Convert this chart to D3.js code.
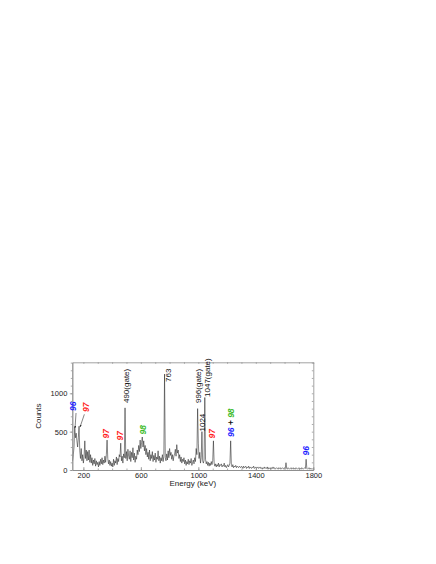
<!DOCTYPE html>
<html>
<head>
<meta charset="utf-8">
<script src="https://d3js.org/d3.v7.min.js"></script>
<style>
body { margin: 0; background: #fff; }
svg { display: block; font-family: "Liberation Sans", Arial, sans-serif; }
</style>
</head>
<body>
<svg id="chart"></svg>
<script>
// spectrum, 5 keV channels starting at 125 keV
var binStart = 125
var binWidth = 5
var counts = [
  120,200,300,560,420,480,380,300,420,570,250,150,280,120,200,
  90,170,380,150,260,120,240,130,260,100,200,90,160,60,130,80,150,50,120,70,
  100,40,110,60,140,80,160,70,130,90,180,100,200,390,150,80,130,60,110,50,
  90,40,140,60,120,90,170,70,150,110,200,170,350,120,180,90,210,160,810,150,
  240,120,270,180,140,250,110,230,160,290,130,220,100,180,140,260,200,320,240,390,
  280,360,430,300,380,250,320,200,280,170,230,140,260,120,200,150,240,110,190,130,
  220,100,170,140,250,120,180,90,160,120,200,110,180,1250,160,120,210,130,250,160,
  280,190,230,140,200,120,180,210,270,180,330,220,260,150,200,110,170,90,140,110,
  160,80,130,60,110,80,140,70,120,90,150,60,100,130,80,160,110,280,200,800,
  350,150,230,90,160,500,120,90,130,945,140,80,110,60,100,50,90,60,110,70,
  120,380,90,50,80,40,70,50,90,40,70,60,80,40,60,50,90,40,60,30,
  50,70,40,60,90,380,60,40,70,30,50,40,60,30,50,40,30,50,40,30,
  50,40,20,50,30,40,50,20,40,30,50,20,40,30,20,40,30,50,20,30,
  40,20,30,40,20,30,40,20,30,10,30,20,40,20,30,20,40,10,30,20,
  30,10,30,20,40,20,30,10,20,30,20,10,30,20,30,10,20,30,20,10,
  30,20,95,20,10,30,20,10,20,30,10,20,30,10,20,10,30,20,10,20,
  30,10,20,10,30,20,10,20,30,20,140,20,10,20,30,10,20,10,20,10,
  20
]

var xTicks = [200, 600, 1000, 1400, 1800]
var xMinor = [200,300,400,500,600,700,800,900,1000,1100,1200,1300,1400,1500,1600,1700,1800]
var yTicks = [0, 500, 1000]
var yMinor = [0,100,200,300,400,500,600,700,800,900,1000,1100,1200,1300,1400]

// peak labels: text parts, energy of label, count where label starts
var labelParts = [
  [["96","#1f1fff"]],
  [["97","#ff1f1f"]],
  [["97","#ff1f1f"]],
  [["97","#ff1f1f"]],
  [["98","#3dbb2a"]],
  [["490(gate)","#111"]],
  [["763","#111"]],
  [["996(gate)","#111"]],
  [["1047(gate)","#111"]],
  [["1024","#111"]],
  [["97","#ff1f1f"]],
  [["96","#1f1fff"],[" + ","#111"],["98","#3dbb2a"]],
  [["96","#1f1fff"]]
]
var labelEnergy = [130, 219, 360, 457, 613, 495, 793, 996, 1061, 1024, 1093, 1224, 1748]
var labelCount  = [770, 756, 410, 385, 463, 873, 1147, 873, 952, 502, 410, 430, 190]
var labelBold   = [true, true, true, true, true, false, false, false, false, false, true, true, true]

// arrows from labels to low-energy peaks: [E1, C1, E2, C2]
var arrows = [
  [149, 743, 142, 548],
  [207, 726, 177, 560]
]

var W = 436, H = 564
var margin = {left: 72.3, top: 362.3, right: 436 - 313.3, bottom: 564 - 470}
var width = W - margin.left - margin.right
var height = H - margin.top - margin.bottom

var svg = d3.select('#chart').attr('width', W).attr('height', H)

svg.append('defs').append('marker')
   .attr('id', 'arrowhead')
   .attr('viewBox', '0 0 10 10')
   .attr('refX', 9).attr('refY', 5)
   .attr('markerWidth', 4).attr('markerHeight', 4)
   .attr('orient', 'auto')
   .append('path').attr('d', 'M0,1 L10,5 L0,9 z').attr('fill', '#333')

var plot = svg.append('g').attr('transform', 'translate(' + margin.left + ',' + margin.top + ')')

var xScale = d3.scaleLinear().domain([123, 1800]).range([0, width])
var yScale = d3.scaleLinear().domain([0, 1404]).range([height, 0])

var spectrum = counts.map(function(c, i){ return {e: binStart + i*binWidth, c: c} })

var line = d3.line()
             .x(function(d){ return xScale(d.e) })
             .y(function(d){ return yScale(d.c) })

plot.append('path')
    .datum(spectrum)
    .attr('d', line)
    .attr('fill', 'none')
    .attr('stroke', '#222')
    .attr('stroke-width', 0.55)
    .attr('stroke-linejoin', 'miter')

// axes
function styleAxis(g){
  g.select('.domain').attr('stroke', '#8a8a8a').attr('stroke-width', 0.8)
  g.selectAll('.tick line').attr('stroke', '#8a8a8a').attr('stroke-width', 0.7)
  g.selectAll('.tick text').attr('font-size', 7.5).attr('fill', '#222')
      .attr('font-family', '"Liberation Sans", Arial, sans-serif')
}

plot.append('g').attr('transform', 'translate(0,' + height + ')')
    .call(d3.axisBottom(xScale).tickValues(xMinor).tickSizeInner(-1.5).tickSizeOuter(0).tickFormat(''))
    .call(styleAxis)
plot.append('g').attr('transform', 'translate(0,' + height + ')')
    .call(d3.axisBottom(xScale).tickValues(xTicks).tickSizeInner(-3).tickSizeOuter(0).tickPadding(3).tickFormat(d3.format('d')))
    .call(styleAxis)
plot.append('g')
    .call(d3.axisTop(xScale).tickValues(xMinor).tickSizeInner(-1.5).tickSizeOuter(0).tickFormat(''))
    .call(styleAxis)
plot.append('g')
    .call(d3.axisLeft(yScale).tickValues(yMinor).tickSizeInner(1.5).tickSizeOuter(0).tickFormat(''))
    .call(styleAxis)
plot.append('g')
    .call(d3.axisLeft(yScale).tickValues(yTicks).tickSizeInner(2.5).tickSizeOuter(0).tickPadding(2.5).tickFormat(d3.format('d')))
    .call(styleAxis)
plot.append('g').attr('transform', 'translate(' + width + ',0)')
    .call(d3.axisRight(yScale).tickValues(yMinor).tickSizeInner(-1.5).tickSizeOuter(0).tickFormat(''))
    .call(styleAxis)

// axis titles
svg.append('text')
   .attr('x', margin.left + width/2)
   .attr('y', 486)
   .attr('text-anchor', 'middle')
   .attr('font-size', 8)
   .attr('fill', '#222')
   .text('Energy (keV)')

svg.append('text')
   .attr('transform', 'translate(41,' + (margin.top + height/2) + ') rotate(-90)')
   .attr('text-anchor', 'middle')
   .attr('font-size', 8)
   .attr('fill', '#222')
   .text('Counts')

// peak labels
labelParts.forEach(function(parts, i){
  var t = plot.append('text')
              .attr('transform', 'translate(' + xScale(labelEnergy[i]) + ',' + yScale(labelCount[i]) + ') rotate(-90)')
              .attr('dy', '0.35em')
              .attr('font-size', labelBold[i] ? 8.5 : 8)
              .attr('font-weight', labelBold[i] ? 'bold' : 'normal')
              .attr('font-style', labelBold[i] ? 'italic' : 'normal')
  parts.forEach(function(p){
    t.append('tspan').attr('fill', p[1]).attr('xml:space', 'preserve').text(p[0])
  })
})

plot.selectAll('.arrow')
    .data(arrows)
    .enter()
    .append('line')
    .attr('class', 'arrow')
    .attr('x1', function(d){ return xScale(d[0]) })
    .attr('y1', function(d){ return yScale(d[1]) })
    .attr('x2', function(d){ return xScale(d[2]) })
    .attr('y2', function(d){ return yScale(d[3]) })
    .attr('stroke', '#333')
    .attr('stroke-width', 0.6)
    .attr('marker-end', 'url(#arrowhead)')
</script>
</body>
</html>
